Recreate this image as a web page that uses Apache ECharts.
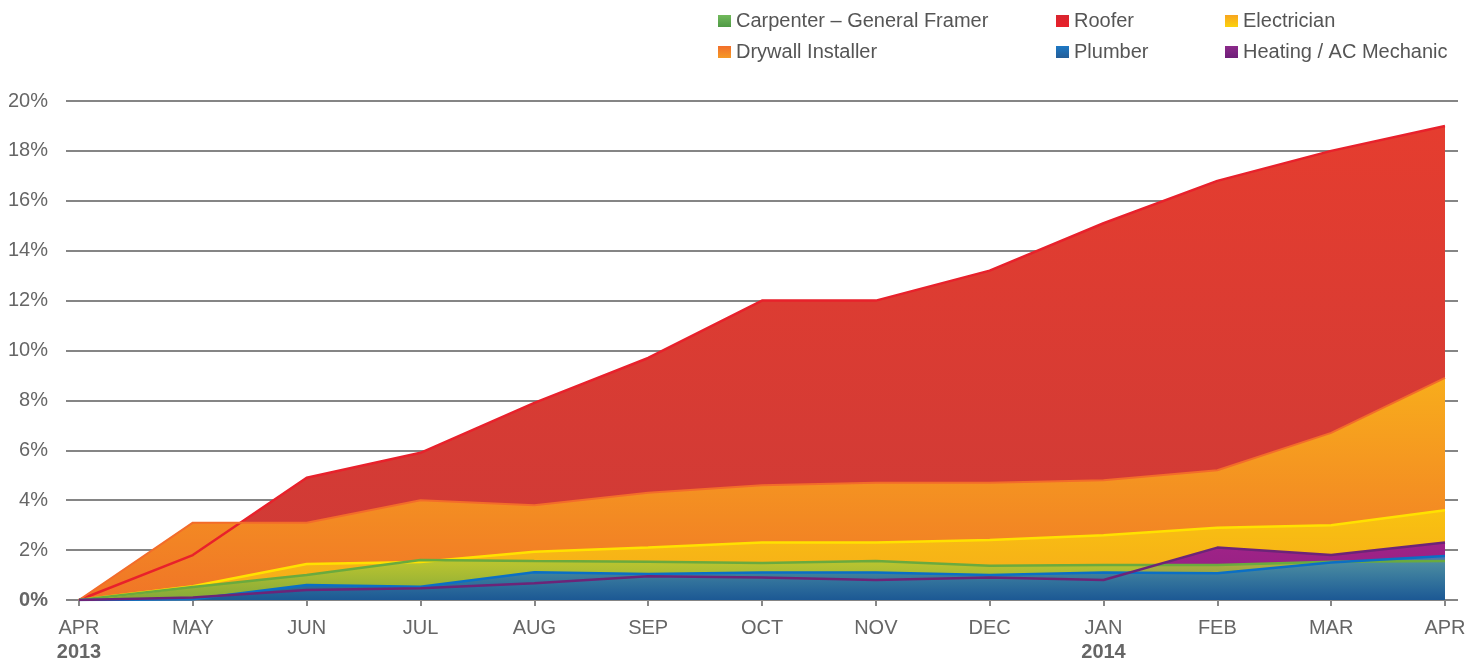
<!DOCTYPE html>
<html>
<head>
<meta charset="utf-8">
<script src="https://cdn.jsdelivr.net/npm/echarts@6/dist/echarts.min.js"></script>
<style>html,body{margin:0;padding:0;background:#fff;}#c{width:1483px;height:665px;}</style>
</head>
<body>
<div id="c"></div>
<script>
const months = ['APR','MAY','JUN','JUL','AUG','SEP','OCT','NOV','DEC','JAN','FEB','MAR','APR'];
const years = {0:'2013', 9:'2014'};

const roofer      = [0, 1.8, 4.9, 5.9, 7.9, 9.7, 12.0, 12.0, 13.2, 15.1, 16.8, 18.0, 19.0];
const drywall     = [0, 3.1, 3.1, 4.0, 3.8, 4.3, 4.6, 4.7, 4.7, 4.8, 5.2, 6.7, 8.9];
const electrician = [0, 0.55, 1.44, 1.52, 1.93, 2.1, 2.3, 2.3, 2.4, 2.6, 2.9, 3.0, 3.6];
const carpenter   = [0, 0.52, 1.0, 1.6, 1.56, 1.53, 1.48, 1.56, 1.37, 1.4, 1.4, 1.53, 1.56];
const plumber     = [0, 0.03, 0.6, 0.53, 1.11, 1.04, 1.1, 1.1, 1.0, 1.1, 1.07, 1.5, 1.76];
const heating     = [0, 0.1, 0.4, 0.47, 0.67, 0.95, 0.9, 0.8, 0.9, 0.8, 2.1, 1.8, 2.3];

const N = {
  carp: 'Carpenter – General Framer', roof: 'Roofer', elec: 'Electrician',
  dry: 'Drywall Installer', plumb: 'Plumber', heat: 'Heating / AC Mechanic'
};
const FONT = 'Liberation Sans';
const grad = (top, bottom) => new echarts.graphic.LinearGradient(0, 0, 0, 1, [{offset:0,color:top},{offset:1,color:bottom}]);

function area(name, data, top, bottom, solid, opacity) {
  return {
    name, type:'line', data, xAxisIndex:1, yAxisIndex:1, symbol:'none', z:2,
    itemStyle:{color:solid}, lineStyle:{width:0},
    areaStyle:{color:grad(top,bottom), opacity: opacity == null ? 1 : opacity},
    silent:true, animation:false
  };
}
function line(name, data, color, solid, w) {
  return {
    name, type:'line', data, xAxisIndex:1, yAxisIndex:1, symbol:'none', z:3,
    itemStyle:{color:solid}, lineStyle:{width:w||2.5, color},
    silent:true, animation:false
  };
}

const icons = {};
icons[N.carp]  = grad('#72b95c', '#4f9a45');
icons[N.dry]   = grad('#f26f2b', '#f59a26');
icons[N.roof]  = grad('#d9252f', '#e8202a');
icons[N.plumb] = grad('#1d78c4', '#245d97');
icons[N.elec]  = grad('#f8a51f', '#fbd20c');
icons[N.heat]  = grad('#8c2a8a', '#6e1f78');

const legendText = {color:'#555', fontSize:20, fontFamily:FONT};
function legend(left, names) {
  return {
    left, top:11, padding:0, orient:'vertical', itemGap:11, itemWidth:13, itemHeight:12,
    icon:'rect', textStyle:legendText, selectedMode:false,
    data:names.map(n => ({name:n, itemStyle:{color:icons[n], borderWidth:0}}))
  };
}

const chart = echarts.init(document.getElementById('c'), null, {renderer:'canvas'});
chart.setOption({
  animation:false,
  legend:[
    legend(718, [N.carp, N.dry]),
    legend(1056, [N.roof, N.plumb]),
    legend(1225, [N.elec, N.heat])
  ],
  grid:[
    {left:66, right:25, top:101, bottom:65},
    {left:79, right:38, top:101, bottom:65}
  ],
  xAxis:[
    {gridIndex:0, type:'value', min:0, max:1, show:false},
    {gridIndex:1, type:'category', boundaryGap:false, data:months,
     axisLine:{show:false},
     axisTick:{show:true, length:6, lineStyle:{color:'#888', width:2}},
     axisLabel:{margin:16, interval:0, color:'#666', fontSize:20, fontFamily:FONT, lineHeight:24,
       formatter:(v, i) => years[i] ? v + '\n{b|' + years[i] + '}' : v,
       rich:{b:{fontWeight:'bold', color:'#666', fontSize:20, fontFamily:FONT, lineHeight:24}}}
    }
  ],
  yAxis:[
    {gridIndex:0, type:'value', min:0, max:20, interval:2,
     axisLine:{show:false}, axisTick:{show:false},
     axisLabel:{margin:18, color:'#666', fontSize:20, fontFamily:FONT,
       formatter:v => v === 0 ? '{z|0%}' : v + '%',
       rich:{z:{fontWeight:'bold', color:'#666', fontSize:20, fontFamily:FONT}}},
     splitLine:{show:true, lineStyle:{color:'#858585', width:2}}
    },
    {gridIndex:1, type:'value', min:0, max:20, interval:2, show:false, splitLine:{show:false}}
  ],
  series:[
    area(N.roof, roofer, '#e53d2f', '#cd3a37', '#e3222b'),
    area(N.dry, drywall, '#f8ad1c', '#f07527', '#f07a28'),
    area(N.elec, electrician, '#f9c210', '#f5a81c', '#f9c20c'),
    area(N.heat, heating, '#a02388', '#8f1f80', '#7d2580'),
    area(N.carp, carpenter, '#b3c933', '#6fa83f', '#62ab47', 0.85),
    area(N.plumb, plumber, 'rgba(60,140,185,0.8)', 'rgba(28,88,148,1)', '#1c72b8'),
    line(N.roof, roofer, '#e8212b', '#e3222b'),
    line(N.dry, drywall, '#f36c2a', '#f07a28', 2),
    line(N.elec, electrician, '#ffe100', '#f9c20c'),
    line(N.carp, carpenter, '#6aaa3e', '#62ab47'),
    line(N.plumb, plumber, '#0b6fc4', '#1c72b8'),
    line(N.heat, heating, '#6c2478', '#7d2580')
  ]
});
</script>
</body>
</html>
